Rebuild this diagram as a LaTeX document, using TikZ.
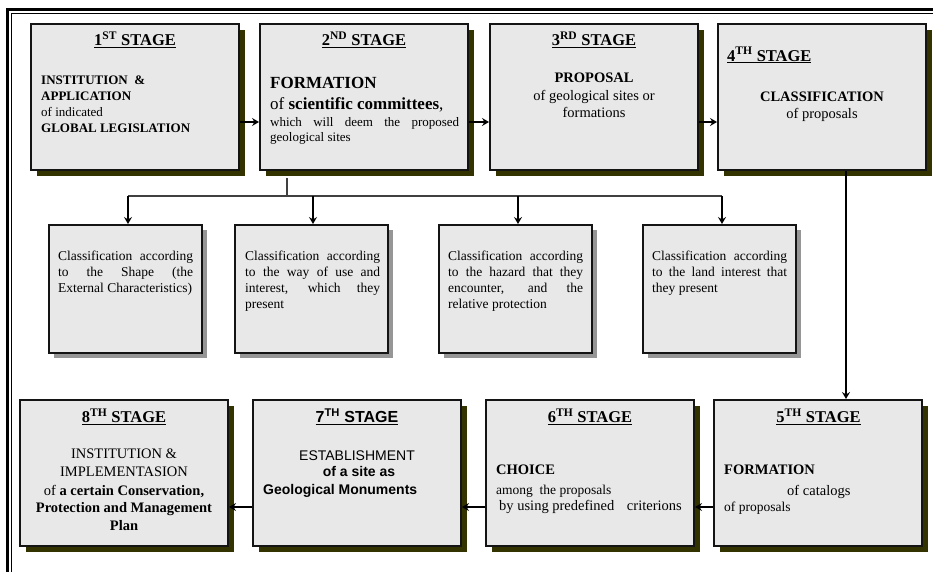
\documentclass[tikz,border=0pt]{standalone}
\usepackage{fontspec}
\setmainfont{Liberation Serif}
\newfontfamily\arialf{Liberation Sans}
\usetikzlibrary{arrows.meta,shadows,calc}
\definecolor{boxfill}{RGB}{232,232,232}
\definecolor{olivesh}{RGB}{51,51,0}
\definecolor{greysh}{RGB}{150,150,150}
\definecolor{edgec}{RGB}{20,20,20}
\definecolor{branchc}{RGB}{64,64,64}
\newcommand\fsz[1]{\fontsize{#1}{#1}\selectfont}
\tikzset{
  stagebox/.style={draw=edgec, line width=2pt, fill=boxfill, minimum width=208pt, minimum height=146pt,
    anchor=north west, inner sep=0pt,
    drop shadow={shadow xshift=6pt, shadow yshift=-6pt, fill=olivesh, opacity=1}},
  classbox/.style={draw=edgec, line width=2pt, fill=boxfill, minimum width=153pt, minimum height=128pt,
    anchor=north west, inner sep=0pt,
    drop shadow={shadow xshift=5pt, shadow yshift=-5pt, fill=greysh, opacity=1}},
  ttl/.style={anchor=base, inner sep=0pt, font=\fsz{16.5}\bfseries},
  ln/.style={anchor=base west, inner sep=0pt},
  lnc/.style={anchor=base, inner sep=0pt},
  midtxt/.style={anchor=north west, inner sep=0pt, text width=135pt, align=justify, font=\fontsize{13.5}{16}\selectfont},
  arr/.style={draw=black, line width=2pt, -{Stealth[length=7pt,width=8pt,inset=2.5pt]}},
  branch/.style={draw=branchc, line width=2pt}
}
\begin{document}
\begin{tikzpicture}[x=1pt,y=-1pt]
\useasboundingbox (0,0) rectangle (933,571);
\clip (0,0) rectangle (933,571);
\fill[white] (0,0) rectangle (933,571);
% frame
\draw[line width=3pt] (7.5,9) rectangle (980,620);
\draw[line width=1pt] (11.5,13.5) rectangle (970,610);

% top stages
\node[stagebox] (b1) at (30,23) {};
\node[stagebox] (b2) at (259,23) {};
\node[stagebox] (b3) at (489,23) {};
\node[stagebox] (b4) at (717,23) {};
% classification boxes
\node[classbox] (cA) at (48,224) {};
\node[classbox] (cB) at (234,224) {};
\node[classbox] (cC) at (438,224) {};
\node[classbox] (cD) at (642,224) {};
% bottom stages
\node[stagebox] (b8) at (19,399) {};
\node[stagebox] (b7) at (252,399) {};
\node[stagebox] (b6) at (485,399) {};
\node[stagebox] (b5) at (713,399) {};

% connectors
\draw[arr] ([yshift=-25pt]b1.east) -- ([yshift=-25pt]b2.west);
\draw[arr] ([yshift=-25pt]b2.east) -- ([yshift=-25pt]b3.west);
\draw[arr] ([yshift=-25pt]b3.east) -- ([yshift=-25pt]b4.west);
\coordinate (vx) at (846,0);
\draw[arr] (b4.south -| vx) -- (b5.north -| vx);
\draw[arr] ([yshift=-34pt]b5.west) -- ([yshift=-34pt]b6.east);
\draw[arr] ([yshift=-34pt]b6.west) -- ([yshift=-34pt]b7.east);
\draw[arr] ([yshift=-34pt]b7.west) -- ([yshift=-34pt]b8.east);

\coordinate (j) at (287,196);
\coordinate (tA) at ([xshift=2.5pt]cA.north);
\coordinate (tB) at ([xshift=1.5pt]cB.north);
\coordinate (tC) at ([xshift=2.5pt]cC.north);
\coordinate (tD) at ([xshift=2.5pt]cD.north);
\draw[branch] ([yshift=-7pt]b2.south -| j) -- (j);
\draw[branch] (tA |- j) -- (tD |- j);
\draw[arr] (tA |- j) -- (tA);
\draw[arr] (tB |- j) -- (tB);
\draw[arr] (tC |- j) -- (tC);
\draw[arr] (tD |- j) -- (tD);

% stage 1
\node[ttl] (t1) at (135,45.7) {\underline{1\textsuperscript{ST} STAGE}};
\node[ln, font=\fsz{13}\bfseries] (s1a) at (41,84) {INSTITUTION\ \ \&};
\node[ln, font=\fsz{13}\bfseries] (s1b) at (41,100.3) {APPLICATION};
\node[ln, font=\fsz{13}] (s1c) at (41,116.7) {of indicated};
\node[ln, font=\fsz{13}\bfseries] (s1d) at (41,132.7) {GLOBAL LEGISLATION};
% stage 2
\node[ttl] (t2) at (364,45.7) {\underline{2\textsuperscript{ND} STAGE}};
\node[ln, font=\fsz{17}\bfseries] (s2a) at (270,88.3) {FORMATION};
\node[ln, font=\fsz{17}] (s2b) at (270,109.3) {of \textbf{scientific committees},};
\node[ln, font=\fsz{13}] (s2c) at (270,126) {\makebox[189pt][s]{which will deem the proposed}};
\node[ln, font=\fsz{13}] (s2d) at (270,141.7) {geological sites};
% stage 3
\node[ttl] (t3) at (594,45.7) {\underline{3\textsuperscript{RD} STAGE}};
\node[lnc, font=\fsz{14.5}\bfseries] (s3a) at (594,82.7) {PROPOSAL};
\node[lnc, font=\fsz{14.5}] (s3b) at (594,100) {of geological sites or};
\node[lnc, font=\fsz{14.5}] (s3c) at (594,117) {formations};
% stage 4
\node[ttl, anchor=base west] (t4) at (727,61) {\underline{4\textsuperscript{TH} STAGE}};
\node[lnc, font=\fsz{14.5}\bfseries] (s4a) at (822,101.7) {CLASSIFICATION};
\node[lnc, font=\fsz{14.5}] (s4b) at (822,118.3) {of proposals};

% classification texts
\node[midtxt] (xA) at (58,251) {Classification according\linebreak to the Shape (the\linebreak \mbox{External Characteristics)}};
\node[midtxt] (xB) at (245,251) {Classification according\linebreak to the way of use and\linebreak interest, which they\linebreak present};
\node[midtxt] (xC) at (448,251) {Classification according\linebreak to the hazard that they\linebreak encounter, and the\linebreak relative protection};
\node[midtxt] (xD) at (652,251) {Classification according\linebreak to the land interest that\linebreak they present};

% stage 8
\node[ttl] (t8) at (124,422.3) {\underline{8\textsuperscript{TH} STAGE}};
\node[lnc, font=\fsz{14.5}] (s8a) at (124,458.3) {INSTITUTION \&};
\node[lnc, font=\fsz{14.5}] (s8b) at (124,476.7) {IMPLEMENTASION};
\node[lnc, font=\fsz{14.5}] (s8c) at (124,495) {of \textbf{a certain Conservation,}};
\node[lnc, font=\fsz{14.5}\bfseries] (s8d) at (124,512.7) {Protection and Management};
\node[lnc, font=\fsz{14.5}\bfseries] (s8e) at (124,530.7) {Plan};
% stage 7
\node[ttl, font=\arialf\fsz{16}\bfseries] (t7) at (357,422.7) {\underline{7\textsuperscript{TH} STAGE}};
\node[lnc, font=\arialf\fsz{14}] (s7a) at (357,460) {ESTABLISHMENT};
\node[lnc, font=\arialf\fsz{14}\bfseries] (s7b) at (359,476.7) {of a site as};
\node[ln, font=\arialf\fsz{14}\bfseries] (s7c) at (263,494) {Geological Monuments};
% stage 6
\node[ttl] (t6) at (590,422.3) {\underline{6\textsuperscript{TH} STAGE}};
\node[ln, font=\fsz{14.5}\bfseries] (s6a) at (496,474.3) {CHOICE};
\node[ln, font=\fsz{13.5}] (s6b) at (496,494) {among\ \ the proposals};
\node[ln, font=\fsz{14.5}] (s6c) at (499,510.3) {by using predefined\hspace{9pt} criterions};
% stage 5
\node[ttl] (t5) at (818.5,422.3) {\underline{5\textsuperscript{TH} STAGE}};
\node[ln, font=\fsz{14.5}\bfseries] (s5a) at (724,474.3) {FORMATION};
\node[ln, font=\fsz{14.5}] (s5b) at (787,495.9) {of catalogs};
\node[ln, font=\fsz{13.5}] (s5c) at (724,511.5) {of proposals};
\end{tikzpicture}
\end{document}
